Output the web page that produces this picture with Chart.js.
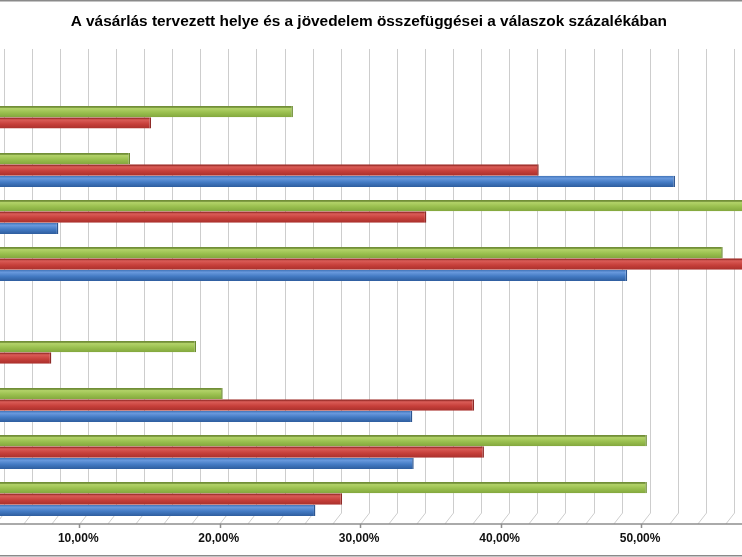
<!DOCTYPE html>
<html lang="hu">
<head>
<meta charset="utf-8">
<title>A vásárlás tervezett helye és a jövedelem</title>
<script src="https://cdn.jsdelivr.net/npm/chart.js@4.4.1/dist/chart.umd.min.js"></script>
<style>
  html, body { margin: 0; padding: 0; background: #fff; overflow: hidden; }
  #wrap { position: relative; width: 742px; height: 557px; overflow: hidden; }
  /* the original picture is a crop: the left labels and the right end are cut off */
  #chart { position: absolute; left: -90px; top: 0; }
</style>
</head>
<body>
<div id="wrap"><canvas id="chart" width="922" height="557"></canvas></div>
<script>
const chartTitle = "A vásárlás tervezett helye és a jövedelem összefüggései a válaszok százalékában";

// categories top to bottom (their names are outside the cropped picture)
const categories = ["1", "2", "3", "4", "5", "6", "7", "8", "9", "10"];
const seriesNames = ["1. adatsor", "2. adatsor", "3. adatsor"];

// percent of responses
const blueValues = [null, null, 51.8, 7.9, 48.4, null, null, 33.1, 33.2, 26.2];
const redValues = [null, 14.5, 42.1, 34.1, 60.0, null, 7.4, 37.5, 38.2, 28.1];
const greenValues = [null, 24.6, 13.0, 62.5, 55.2, null, 17.7, 19.6, 49.8, 49.8];

// x axis: gridline every 2%, label every 10%
const xMin = 0;
const xMax = 60;
const xStep = 2;
const xLabelEvery = 10;

const DEPTH = 8.6; // 3D floor offset between back wall and front axis

function percentLabel(value) {
  const v = Math.round(value);
  if (v % xLabelEvery !== 0) return "";
  return v.toFixed(2).replace(".", ",") + "%";
}

// vertical shading for the bars, from the bar's slot on the category scale
function barFill(edge, light, mid, dark) {
  return (ctx) => {
    const chart = ctx.chart;
    const yScale = chart.scales.y;
    if (ctx.type !== "data" || !yScale || !chart.chartArea) return mid;
    const band = yScale.height / categories.length;
    const group = band * 0.72;
    const chunk = group / 3;
    const top = yScale.getPixelForValue(ctx.dataIndex) - group / 2 + chunk * ctx.datasetIndex;
    const g = chart.ctx.createLinearGradient(0, top, 0, top + chunk);
    g.addColorStop(0, edge);
    g.addColorStop(0.1, edge);
    g.addColorStop(0.22, light);
    g.addColorStop(0.6, mid);
    g.addColorStop(1, dark);
    return g;
  };
}

const floorPlugin = {
  id: "floor3d",
  beforeDatasetsDraw(chart) {
    const { ctx, chartArea } = chart;
    const x = chart.scales.x;
    const backY = chartArea.bottom - 9.5;
    const frontY = chartArea.bottom + 1.5;
    ctx.save();
    ctx.lineWidth = 1;
    ctx.strokeStyle = "#cdcdcd";
    x.ticks.forEach((t) => {
      const px = Math.round(x.getPixelForValue(t.value)) + 0.5;
      ctx.beginPath();
      ctx.moveTo(px, chartArea.top - 3.5);
      ctx.lineTo(px, backY);
      ctx.lineTo(px - DEPTH, frontY);
      ctx.stroke();
    });
    ctx.strokeStyle = "#8e8e8e";
    ctx.lineWidth = 1.5;
    ctx.beginPath();
    ctx.moveTo(chartArea.left - DEPTH, frontY);
    ctx.lineTo(chartArea.right, frontY);
    x.ticks.forEach((t) => {
      if (Math.round(t.value) % xLabelEvery !== 0) return;
      const px = Math.round(x.getPixelForValue(t.value) - DEPTH) + 0.5;
      ctx.moveTo(px, frontY);
      ctx.lineTo(px, frontY + 4);
    });
    ctx.stroke();
    ctx.restore();
  },
  afterDraw(chart) {
    // grey frame lines of the original picture
    const { ctx, width, height } = chart;
    ctx.save();
    ctx.fillStyle = "#8a8a8a";
    ctx.fillRect(0, 0, width, 1.5);
    ctx.fillRect(0, height - 2, width, 1.5);
    ctx.restore();
  },
};

new Chart(document.getElementById("chart"), {
  type: "bar",
  data: {
    labels: categories,
    datasets: [
      {
        label: seriesNames[2],
        data: greenValues,
        backgroundColor: barFill("#728f38", "#b2d268", "#98be4d", "#82a63d"),
        borderColor: "#6a8a2e",
      },
      {
        label: seriesNames[1],
        data: redValues,
        backgroundColor: barFill("#a33430", "#da5c57", "#c63f3a", "#a9302c"),
        borderColor: "#8e2a27",
      },
      {
        label: seriesNames[0],
        data: blueValues,
        backgroundColor: barFill("#4a7cc0", "#6a9ade", "#437ac3", "#2f5e9f"),
        borderColor: "#2c5590",
      },
    ],
  },
  options: {
    indexAxis: "y",
    responsive: false,
    devicePixelRatio: 1,
    animation: false,
    layout: { padding: { left: 37.4, right: 41.85, top: 0, bottom: 1.5 } },
    datasets: {
      bar: {
        categoryPercentage: 0.72,
        barPercentage: 1,
        borderWidth: { top: 0, right: 1.5, bottom: 0, left: 0 },
      },
    },
    scales: {
      x: {
        min: xMin,
        max: xMax,
        grid: { display: false, drawTicks: false },
        border: { display: false },
        ticks: {
          stepSize: xStep,
          autoSkip: false,
          maxRotation: 0,
          padding: 9.3,
          labelOffset: -DEPTH - 1,
          color: "#111",
          font: { family: "'Liberation Sans', Arial, sans-serif", size: 12, weight: "bold" },
          callback: percentLabel,
        },
      },
      y: {
        display: false,
        grid: { display: false },
      },
    },
    plugins: {
      legend: { display: false },
      tooltip: { enabled: false },
      title: {
        display: true,
        text: chartTitle,
        color: "#000",
        font: { family: "'Liberation Sans', Arial, sans-serif", size: 15.4, weight: "bold" },
        padding: { top: 12.8, bottom: 21.2 },
      },
    },
  },
  plugins: [floorPlugin],
});
</script>
</body>
</html>
